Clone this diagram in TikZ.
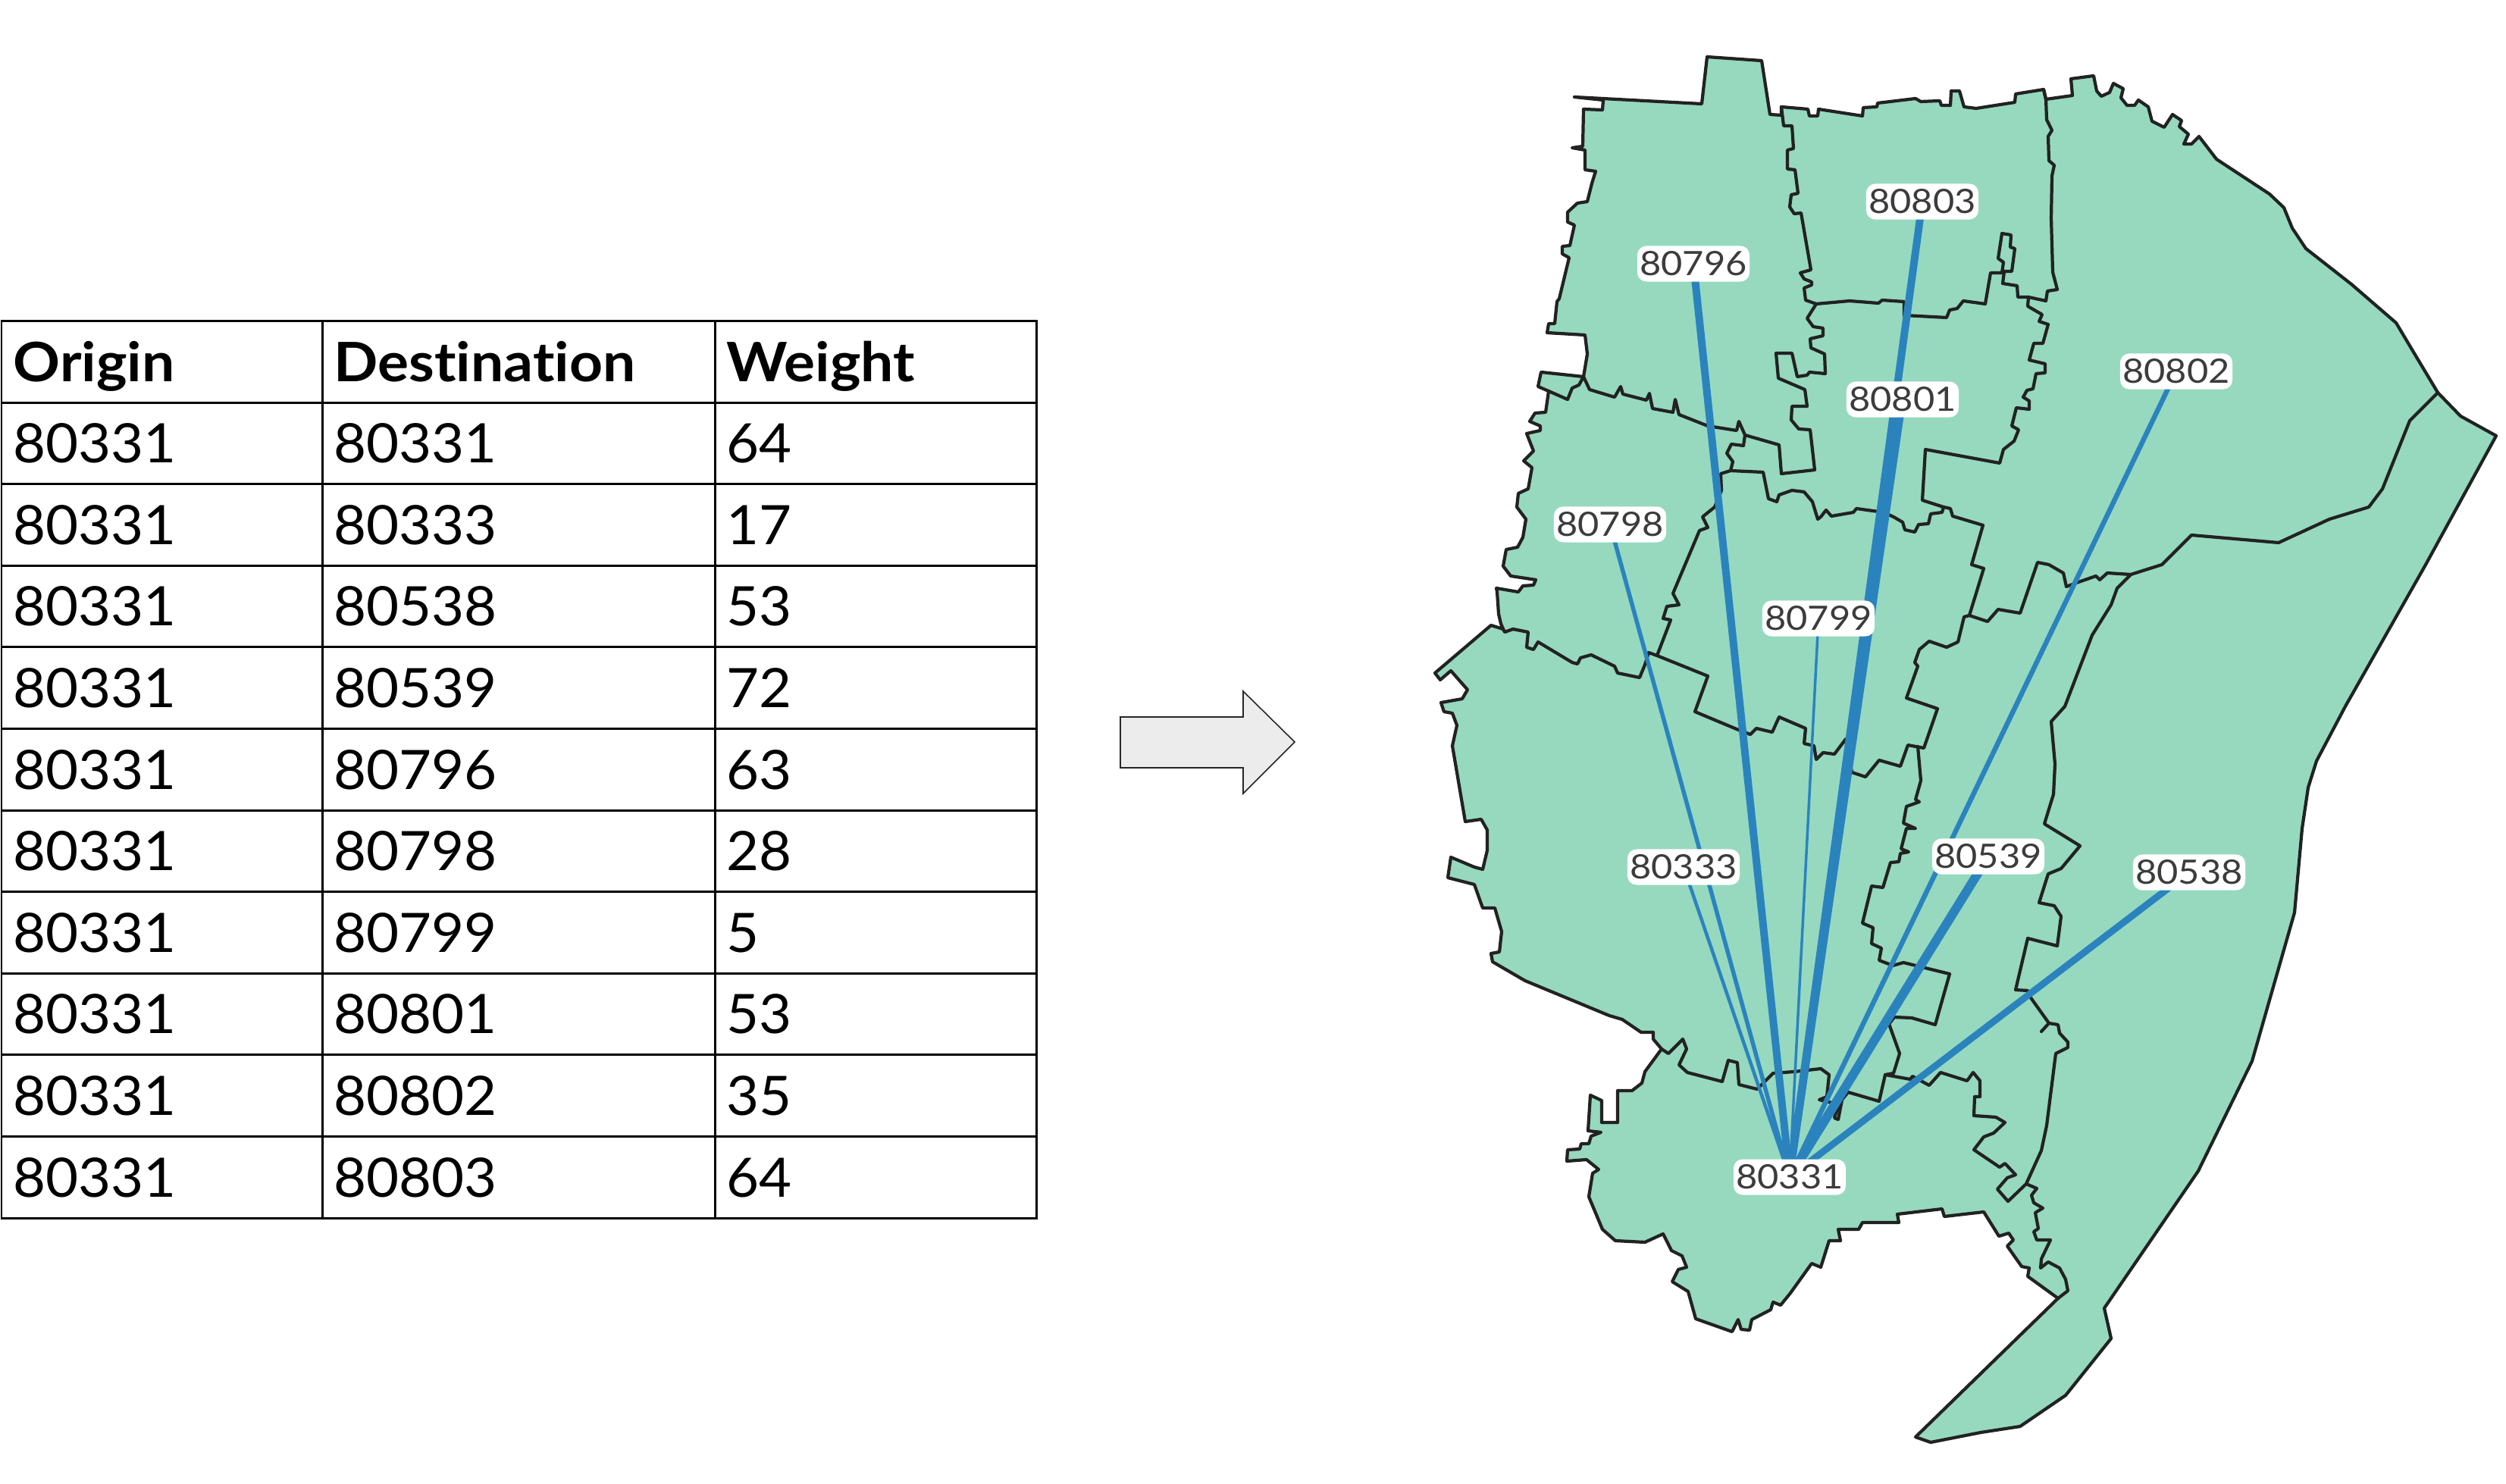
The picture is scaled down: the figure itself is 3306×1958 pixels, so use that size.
\documentclass[tikz,border=0pt]{standalone}
\usepackage{fontspec}
\setmainfont[Ligatures=NoCommon,FakeStretch=1.035]{Lato}
\newfontfamily\headfont[Ligatures=NoCommon,FakeStretch=1.07]{Lato}
\newfontfamily\maplabelfont[FakeStretch=1.1]{Lato}
\pgfdeclarelayer{maplayer}
\pgfdeclarelayer{edgelayer}
\pgfsetlayers{maplayer,edgelayer,main}
\definecolor{landfill}{HTML}{96D9BF}
\definecolor{flowblue}{HTML}{2B83BE}
\definecolor{bordercol}{HTML}{222222}
\definecolor{arrowfill}{HTML}{ECECEC}
\definecolor{labeltext}{HTML}{3C3C3C}
\tikzset{
  border/.style={draw=bordercol,line width=1.2pt,line join=round,line cap=round},
  zipmark/.style={fill=white,rounded corners=3.4pt,inner sep=0pt,minimum width=1.48cm,minimum height=0.47cm,
    text=labeltext,font=\maplabelfont\fontsize{12.6pt}{12.6pt}\selectfont},
  flow/.style={draw=flowblue,line width=#1*0.2835pt},
  cellt/.style={anchor=base west,inner sep=0pt,font=\fontsize{20.4pt}{20.4pt}\selectfont},
  cellh/.style={anchor=base west,inner sep=0pt,font=\headfont\fontsize{20.4pt}{20.4pt}\selectfont\bfseries},
  rule/.style={draw=black,line width=0.85pt,line cap=rect},
}
\begin{document}
\begin{tikzpicture}[x=0.01cm,y=-0.01cm]
\useasboundingbox (0,0) rectangle (3306,1958);
\begin{pgfonlayer}{maplayer}
\fill[white] (0,0) rectangle (3306,1958);
\end{pgfonlayer}

% table
\foreach \r/\a/\b/\c [count=\i from 1] in {
 1/80331/80331/64,2/80331/80333/17,3/80331/80538/53,4/80331/80539/72,5/80331/80796/63,
 6/80331/80798/28,7/80331/80799/5,8/80331/80801/53,9/80331/80802/35,10/80331/80803/64}{
  \node[cellt] (ta\r) at (17,{503+107.6*\i}) {\a};
  \node[cellt] (tb\r) at (440,{503+107.6*\i}) {\b};
  \node[cellt] (tc\r) at (958,{503+107.6*\i}) {\c};
}
\node[cellh] (ha) at (17,503) {Origin};
\node[cellh] (hb) at (440,503) {Destination};
\node[cellh] (hc) at (958,503) {Weight};
\foreach \i in {0,...,11}{\draw[rule] (2,{423.5+107.6*\i}) -- (1367,{423.5+107.6*\i});}
\foreach \x in {2,425,943,1367}{\draw[rule] (\x,423.5) -- (\x,{423.5+107.6*11});}

% arrow
\filldraw[fill=arrowfill,draw=black!85,line width=0.45pt,line join=miter]
 (1478,946) -- (1640,946) -- (1640,912) -- (1708,979) -- (1640,1047) -- (1640,1013) -- (1478,1013) -- cycle;

% labels
\node[zipmark] (n80796) at (2234,348) {80796};
\node[zipmark] (n80803) at (2536,266) {80803};
\node[zipmark] (n80802) at (2871,490) {80802};
\node[zipmark] (n80801) at (2510,527) {80801};
\node[zipmark] (n80798) at (2124,692) {80798};
\node[zipmark] (n80799) at (2399,816) {80799};
\node[zipmark] (n80333) at (2221,1144) {80333};
\node[zipmark] (n80539) at (2623,1130) {80539};
\node[zipmark] (n80538) at (2888,1151) {80538};
\node[zipmark] (n80331) at (2361,1553) {80331};

% connectors
\begin{pgfonlayer}{edgelayer}
\draw[flow=10] (n80331.center) -- (n80796.center);
\draw[flow=10] (n80331.center) -- (n80803.center);
\draw[flow=9.5] (n80331.center) -- (n80801.center);
\draw[flow=12] (n80331.center) -- (n80539.center);
\draw[flow=9] (n80331.center) -- (n80538.center);
\draw[flow=6.5] (n80331.center) -- (n80802.center);
\draw[flow=5.5] (n80331.center) -- (n80798.center);
\draw[flow=4.5] (n80331.center) -- (n80333.center);
\draw[flow=3.5] (n80331.center) -- (n80799.center);
\end{pgfonlayer}

% map
\begin{pgfonlayer}{maplayer}
\filldraw[border,fill=landfill] plot coordinates {
(2077,128) (2245,137) (2252,75) (2324,80) (2335,151) (2350,152) (2350,141) (2385,144) (2387,153) (2398,153) (2399,144)
(2457,153) (2458,142) (2476,141) (2477,136) (2527,130) (2534,134) (2559,133) (2561,139) (2573,139) (2574,120) (2585,120)
(2591,141) (2607,143) (2658,135) (2659,124) (2696,118) (2699,131) (2734,126) (2732,104) (2762,100) (2766,120) (2772,127)
(2783,122) (2788,110) (2801,117) (2798,129) (2806,139) (2816,139) (2821,132) (2834,141) (2839,160) (2855,168) (2866,151)
(2878,159) (2875,167) (2887,177) (2881,190) (2891,190) (2901,180) (2924,210) (2994,256) (3013,274) (3024,301) (3042,328)
(3102,375) (3161,426) (3189,473) (3216,518) (3246,549) (3293,575)
(3200,745) (3094,932) (3056,1004) (3045,1039) (3037,1093) (3027,1204) (2971,1400) (2900,1545) (2776,1726) (2785,1766)
(2725,1841) (2665,1882) (2613,1890) (2547,1903) (2527,1896) (2715,1713)
(2675,1684) (2677,1673) (2667,1671) (2648,1644) (2656,1636) (2650,1627) (2637,1631) (2617,1599) (2565,1605) (2562,1595)
(2503,1602) (2505,1613) (2457,1613) (2452,1622) (2425,1622) (2428,1637) (2413,1637) (2402,1672) (2390,1667) (2362,1706)
(2349,1722) (2339,1718) (2336,1728) (2311,1741) (2308,1755) (2297,1754) (2293,1741) (2285,1757) (2237,1740) (2227,1704)
(2206,1691) (2214,1675) (2225,1672) (2219,1657) (2205,1650) (2194,1628) (2170,1639) (2131,1637) (2114,1622) (2096,1579)
(2101,1548) (2109,1543) (2093,1530) (2067,1532) (2068,1517) (2084,1516) (2086,1509) (2096,1509) (2099,1499) (2112,1494)
(2095,1492) (2098,1445) (2113,1452) (2113,1481) (2134,1481) (2134,1439) (2153,1439) (2166,1429) (2170,1414) (2192,1384)
(2181,1371) (2181,1362) (2165,1362) (2140,1345) (2123,1340) (2012,1294) (1969,1269) (1967,1258) (1978,1256) (1981,1229)
(1972,1198) (1956,1198) (1945,1167) (1910,1158) (1914,1131) (1945,1144) (1956,1147) (1962,1122) (1962,1095) (1954,1081)
(1933,1084) (1916,984) (1922,957) (1916,941) (1905,939) (1901,927) (1929,922) (1936,910) (1914,885) (1900,897) (1893,888)
(1967,825) (1983,830) (1980,823) (1977,810) (1975,781) (1974,776) (2003,781) (2009,773) (2023,772) (2026,765) (1993,760)
(1983,747) (1987,725) (2002,722) (2009,709) (2013,685) (2001,669) (2003,651) (2016,645) (2021,617) (2010,608) (2023,595)
(2014,572) (2032,568) (2032,562) (2018,556) (2025,545) (2039,544) (2043,516) (2029,510) (2033,491) (2089,497) (2094,467)
(2091,442) (2041,439) (2043,427) (2051,427) (2054,398) (2057,394) (2070,340) (2061,335) (2061,325) (2071,324) (2077,297)
(2068,293) (2068,280) (2081,268) (2094,266) (2100,242) (2105,226) (2091,224) (2091,198) (2074,195) (2088,193) (2089,144)
(2114,145) (2115,132)
} -- cycle;
% 80796 / 80803 / 80801 boundary
\draw[border] plot coordinates {
(2350,141) (2353,166) (2364,166) (2366,196) (2358,198) (2358,223) (2368,224) (2372,255) (2363,257) (2361,273) (2367,282)
(2376,281) (2389,356) (2375,360) (2380,368) (2390,372) (2390,376) (2380,380) (2382,396) (2396,401) (2384,420) (2392,431)
(2405,433) (2405,443) (2388,447) (2389,459) (2407,467) (2408,493) (2387,491) (2384,495) (2371,497) (2364,466) (2343,466)
(2346,499) (2381,514) (2384,536) (2364,536) (2363,554) (2373,566) (2388,567) (2394,620) (2350,625) (2347,587) (2302,574)
(2294,556) (2291,568) (2253,562) (2215,547) (2210,527) (2207,544) (2180,539) (2176,519) (2172,528) (2141,520) (2138,510)
(2130,524) (2097,514) (2089,497)};
% small triangle
\draw[border] plot coordinates {(2043,516) (2068,527) (2074,512) (2083,508) (2089,497)};
% 80799 north
\draw[border] plot coordinates {
(2302,574) (2300,588) (2284,586) (2278,598) (2286,609) (2283,621) (2326,623) (2333,658) (2344,662) (2347,653) (2364,647)
(2380,649) (2391,662) (2398,685) (2402,682) (2409,673) (2416,681) (2445,676) (2449,671) (2485,676) (2498,682) (2510,689)
(2513,699) (2526,702) (2531,692) (2544,691) (2547,678) (2562,676) (2564,669)};
\draw[border] plot coordinates {(2283,621) (2270,625) (2271,647) (2262,669) (2246,682) (2253,696) (2242,700) (2207,783) (2215,798)
(2199,800) (2194,816) (2204,818) (2186,865)};
% 80801 east and 80803 bottom
\draw[border] plot coordinates {
(2564,669) (2536,660) (2540,593) (2638,611) (2643,593) (2657,582) (2663,567) (2654,562) (2660,538) (2677,540) (2677,529)
(2669,524) (2674,515) (2682,513) (2686,493) (2698,492) (2698,480) (2677,475) (2683,453) (2695,453) (2702,428) (2690,424)
(2694,415) (2675,404) (2676,392)};
\draw[border] plot coordinates {
(2696,118) (2699,131) (2700,158) (2707,172) (2702,180) (2703,212) (2710,218) (2707,232) (2706,288) (2708,359) (2714,382)
(2701,384) (2699,397) (2676,392) (2662,392) (2661,377) (2642,374) (2644,358) (2654,358) (2658,328) (2652,326) (2653,310)
(2641,308) (2636,341) (2643,346) (2641,360) (2626,360) (2619,401) (2590,397) (2582,407) (2572,409) (2568,419) (2512,416)
(2512,398) (2483,396) (2478,400) (2440,397) (2396,401)};
% 80802 south and west
\draw[border] plot coordinates {
(3216,518) (3179,555) (3143,645) (3125,669) (3073,685) (3006,716) (2891,706) (2852,745) (2811,758) (2780,756) (2770,765)
(2765,760) (2742,768) (2726,774) (2722,756) (2703,745) (2688,742) (2665,809) (2636,804) (2622,820) (2598,812) (2617,750)
(2601,745) (2616,693) (2576,681) (2573,671) (2564,669)};
% 80799 south
\draw[border] plot coordinates {
(2598,812) (2591,814) (2583,847) (2568,854) (2545,846) (2532,857) (2526,874) (2530,879) (2515,921) (2556,935) (2538,987)
(2517,983) (2507,1011) (2479,1003) (2461,1025) (2443,1019) (2435,975) (2420,995) (2405,993) (2396,1002) (2393,984) (2380,981)
(2382,961) (2347,946) (2338,966) (2317,961) (2309,969) (2291,962) (2236,939) (2253,892) (2186,865) (2175,861) (2170,877)
(2163,894) (2134,888) (2130,879) (2099,864) (2085,868) (2081,876) (2074,874) (2029,847) (2023,857) (2014,854) (2016,834)
(1996,830) (1985,834) (1983,830)};
% 80539 west and small box
\draw[border] plot coordinates {
(2530,985) (2534,1030) (2527,1055) (2532,1058) (2515,1064) (2511,1086) (2527,1093) (2515,1093) (2508,1120) (2518,1124) (2507,1126)
(2505,1137) (2494,1138) (2484,1171) (2469,1169) (2457,1218) (2471,1224) (2469,1245) (2482,1251) (2479,1267) (2497,1274)
(2511,1270) (2572,1285) (2553,1352) (2522,1343) (2499,1342) (2492,1351) (2506,1390) (2498,1416) (2487,1418) (2479,1453)
(2438,1441) (2430,1451) (2425,1477) (2420,1475) (2425,1457) (2400,1451) (2410,1447) (2413,1418) (2402,1410) (2367,1414)
(2339,1416) (2318,1437) (2294,1431) (2292,1402) (2280,1399) (2272,1427) (2226,1415) (2215,1405) (2225,1384) (2220,1371)
(2201,1390) (2192,1384)};
% 80331 north east
\draw[border] plot coordinates {
(2487,1418) (2520,1424) (2523,1420) (2545,1432) (2560,1415) (2595,1426) (2603,1415) (2612,1426) (2612,1447) (2605,1447)
(2604,1472) (2633,1474) (2645,1481) (2630,1495) (2617,1500) (2604,1517) (2638,1540) (2645,1535) (2659,1550) (2648,1554)
(2635,1569) (2649,1585) (2673,1562) (2693,1518) (2700,1485) (2712,1390) (2728,1382) (2728,1375) (2717,1363) (2715,1352)
(2703,1350) (2693,1361) (2703,1350) (2678,1315) (2675,1307) (2659,1306) (2675,1238) (2714,1248) (2719,1209) (2710,1195)
(2690,1191) (2702,1153) (2719,1146) (2744,1116) (2697,1087) (2709,1048) (2711,1008) (2706,952) (2724,932) (2760,838)
(2785,798) (2793,776) (2811,758)};
\draw[border] plot coordinates {
(2673,1562) (2687,1568) (2680,1577) (2683,1587) (2695,1594) (2685,1600) (2689,1621) (2683,1625) (2687,1636) (2705,1636)
(2693,1661) (2692,1673) (2702,1665) (2717,1673) (2725,1688) (2728,1703) (2715,1713)};
\end{pgfonlayer}
\end{tikzpicture}
\end{document}
